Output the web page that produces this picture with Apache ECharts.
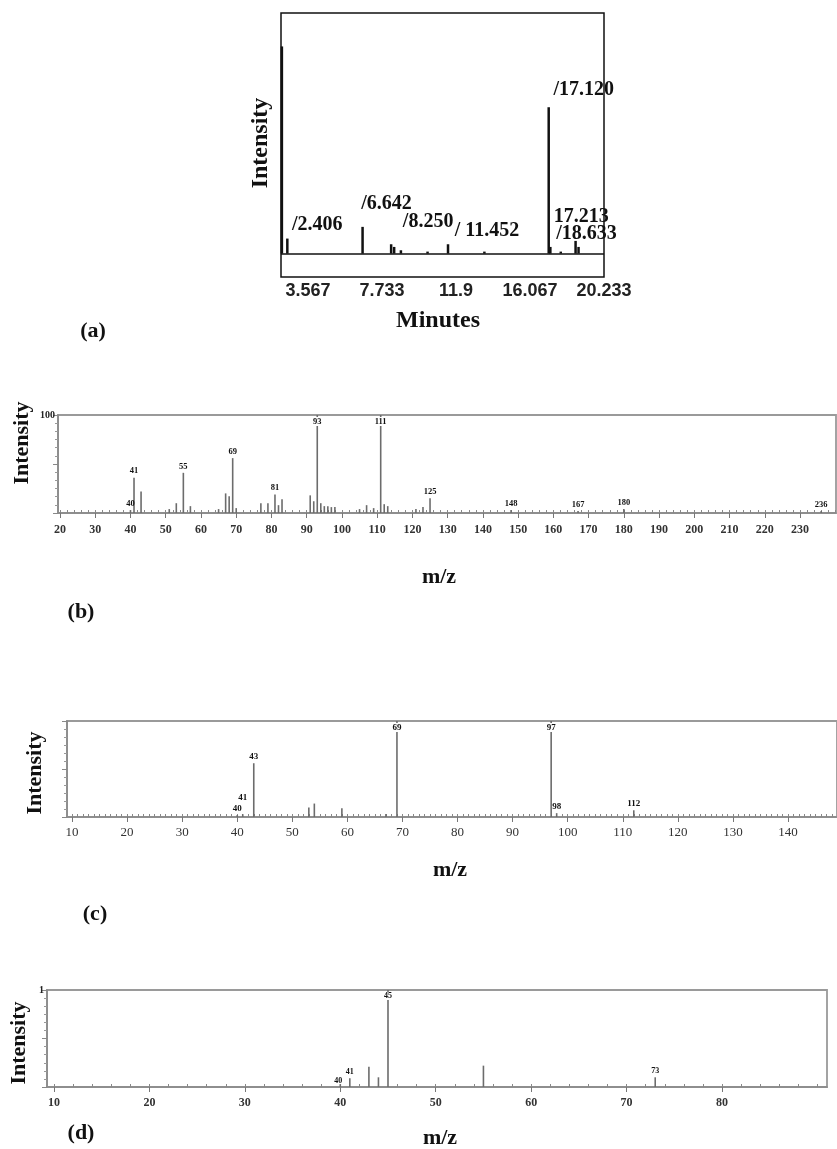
<!DOCTYPE html>
<html><head><meta charset="utf-8">
<script src="https://cdn.jsdelivr.net/npm/echarts@6/dist/echarts.min.js"></script>
<style>html,body{margin:0;padding:0;background:#fff}#c{width:837px;height:1149px}</style>
</head><body><div id="c"></div>
<script>
// ---- (a) chromatogram ----
const chromTimes   = [2.1, 2.406, 6.642, 8.250, 8.42, 8.8, 10.3, 11.452, 13.5, 17.120, 17.213, 17.8, 18.633, 18.8];
const chromHeights = [620, 45, 80, 28, 20, 10, 6, 28, 6, 438, 20, 6, 38, 20];
const chromLabels  = ['', '/2.406', '/6.642', '/8.250', '', '', '', '/ 11.452', '', '/17.120', '17.213', '', '/18.633', ''];
const chromTickValues = [3.567, 7.733, 11.9, 16.067, 20.233];
const chromTickText   = ['3.567', '7.733', '11.9', '16.067', '20.233'];

// ---- (b) mass spectrum ----
const bMz  = [40, 41, 43, 51, 53, 55, 57, 65, 67, 68, 69, 70, 77, 79, 81, 82, 83, 91, 92, 93, 94, 95, 96, 97, 98, 105, 107, 109, 111, 112, 113, 121, 123, 125, 148, 167, 180, 236];
const bInt = [3, 36, 22, 4, 10, 41, 7, 4, 20, 17, 56, 5, 10, 10, 19, 8, 14, 18, 12, 100, 10, 7, 7, 6, 6, 4, 8, 5, 100, 9, 7, 4, 6, 15, 3, 2, 4, 2];
const bLabelled = [40, 41, 55, 69, 81, 93, 111, 125, 148, 167, 180, 236];
const bTicks = [20, 30, 40, 50, 60, 70, 80, 90, 100, 110, 120, 130, 140, 150, 160, 170, 180, 190, 200, 210, 220, 230];

// ---- (c) mass spectrum ----
const cMz  = [40, 41, 43, 53, 54, 59, 67, 69, 97, 98, 112];
const cInt = [2, 3, 56, 10, 14, 9, 3, 100, 100, 4, 7];
const cLabelled = [40, 41, 43, 69, 97, 98, 112];
const cTicks = [10, 20, 30, 40, 50, 60, 70, 80, 90, 100, 110, 120, 130, 140];

// ---- (d) mass spectrum ----
const dMz  = [40, 41, 43, 44, 45, 55, 73];
const dInt = [3, 9, 21, 10, 100, 22, 10];
const dLabelled = [40, 41, 45, 73];
const dTicks = [10, 20, 30, 40, 50, 60, 70, 80];

// ---- layout / style (not data) ----
const chromLabelOffsets = [[0,0],[30,-4],[24,-13],[37,-12],[0,0],[0,0],[0,0],[39,-3],[0,0],[35,-7],[31,-20],[0,0],[11,3],[0,0]];
const specLabelOffsets = { c: {41: [0, -10]}, d: {40: [-2, 3]} };
const SERIF = '"Liberation Serif","DejaVu Serif",serif';
const SANS = '"Liberation Sans",Arial,sans-serif';

function minorList(min, max, step) {
  const out = [];
  for (let v = Math.ceil(min / step) * step; v <= max; v += step) out.push(+v.toFixed(4));
  return out;
}

const grids = [
  {left: 281, top: 13, width: 323, height: 264, show: true, borderColor: '#111', borderWidth: 1.5},
  {left: 58, top: 415, width: 778, height: 98, show: true, borderColor: '#9a9a9a', borderWidth: 1.8},
  {left: 67, top: 721, width: 770, height: 96, show: true, borderColor: '#9a9a9a', borderWidth: 1.8},
  {left: 47, top: 990, width: 780, height: 97, show: true, borderColor: '#9a9a9a', borderWidth: 1.8}
];

const specAxes = [
  {key: 'b', min: 19.43, max: 240.2, ticks: bTicks, minorStep: 2, font: 12, margin: 11, weight: 'bold', yLabel: '100'},
  {key: 'c', min: 9.09, max: 148.9, ticks: cTicks, minorStep: 1, font: 13, margin: 9, weight: 'normal', yLabel: ''},
  {key: 'd', min: 9.27, max: 91.0, ticks: dTicks, minorStep: 2, font: 12, margin: 10, weight: 'bold', yLabel: '1'}
];

const xAxes = [{
  gridIndex: 0, type: 'value', min: 2.05, max: 20.233,
  axisLine: {show: false}, axisTick: {show: false}, splitLine: {show: false},
  axisLabel: {
    customValues: chromTickValues, margin: 5,
    formatter: v => chromTickText[chromTickValues.findIndex(t => Math.abs(t - v) < 1e-6)] || '',
    color: '#222', fontFamily: SANS, fontWeight: 'bold', fontSize: 18
  }
}];
const yAxes = [{
  gridIndex: 0, type: 'value', min: -70, max: 720,
  axisLine: {show: false}, axisTick: {show: false}, axisLabel: {show: false}, splitLine: {show: false}
}];

specAxes.forEach((a, i) => {
  const g = i + 1;
  xAxes.push({
    gridIndex: g, type: 'value', min: a.min, max: a.max,
    axisLine: {onZero: false, lineStyle: {color: '#8a8a8a', width: 1.6}},
    axisTick: {customValues: a.ticks, length: 5, lineStyle: {color: '#777'}},
    splitLine: {show: false},
    axisLabel: {customValues: a.ticks, margin: a.margin, color: '#333', fontFamily: SERIF,
      fontSize: a.font, fontWeight: a.weight}
  });
  xAxes.push({
    gridIndex: g, type: 'value', min: a.min, max: a.max,
    axisLine: {show: false}, splitLine: {show: false}, axisLabel: {show: false},
    axisTick: {customValues: minorList(a.min, a.max, a.minorStep), length: 3, lineStyle: {color: '#888'}}
  });
  yAxes.push({
    gridIndex: g, type: 'value', min: 0, max: 100, interval: 50,
    axisLine: {show: true, lineStyle: {color: '#8a8a8a', width: 1.6}},
    axisTick: {show: true, length: 5, lineStyle: {color: '#888'}},
    minorTick: {show: true, splitNumber: 6, length: 3, lineStyle: {color: '#999'}},
    splitLine: {show: false},
    axisLabel: {margin: 3, formatter: v => (v === 100 ? a.yLabel : ''), color: '#222',
      fontFamily: SERIF, fontWeight: 'bold', fontSize: 10}
  });
});

function specSeries(mz, inten, labelled, xIdx, yIdx, key, fontSize) {
  const offs = specLabelOffsets[key] || {};
  return {
    type: 'bar', xAxisIndex: xIdx, yAxisIndex: yIdx, barWidth: 1.6, animation: false,
    itemStyle: {color: '#6c6c6c'},
    label: {show: false, position: 'top', distance: 2, color: '#111', fontFamily: SERIF,
      fontWeight: 'bold', fontSize: fontSize},
    data: mz.map((m, i) => {
      const lab = labelled.indexOf(m) >= 0;
      const item = {value: [m, inten[i]]};
      if (lab) {
        if (inten[i] >= 100) {
          item.label = {show: true, position: 'insideTop', distance: 2, backgroundColor: '#fff',
            padding: [0, 1], formatter: String(m)};
        } else {
          item.label = {show: true, formatter: String(m), offset: offs[m] || [0, 0]};
        }
      }
      return item;
    })
  };
}

const series = [
  {
    type: 'bar', xAxisIndex: 0, yAxisIndex: 0, barWidth: 2.5, animation: false,
    itemStyle: {color: '#111'},
    label: {show: false, position: 'top', distance: 0, lineHeight: 20, color: '#111',
      fontFamily: SERIF, fontWeight: 'bold', fontSize: 20},
    markLine: {silent: true, symbol: 'none', label: {show: false},
      lineStyle: {color: '#111', width: 1.6, type: 'solid'}, data: [{yAxis: 0}]},
    data: chromTimes.map((t, i) => {
      const item = {value: [t, chromHeights[i]]};
      if (chromLabels[i]) item.label = {show: true, formatter: chromLabels[i], offset: chromLabelOffsets[i]};
      return item;
    })
  },
  specSeries(bMz, bInt, bLabelled, 1, 1, 'b', 8.5),
  specSeries(cMz, cInt, cLabelled, 3, 2, 'c', 9),
  specSeries(dMz, dInt, dLabelled, 5, 3, 'd', 8)
];

function txt(text, x, y, size, rot) {
  return {type: 'text', x: x, y: y, rotation: rot ? Math.PI / 2 : 0,
    style: {text: text, font: 'bold ' + size + 'px ' + SERIF, fill: '#111',
      textAlign: 'center', textVerticalAlign: 'middle'}};
}

const graphic = [
  txt('Intensity', 261, 143, 24, true),
  txt('Minutes', 438, 321, 24),
  txt('(a)', 93, 331, 22),
  txt('Intensity', 22, 443, 22, true),
  txt('m/z', 439, 577, 22),
  txt('(b)', 81, 612, 22),
  txt('Intensity', 35, 773, 22, true),
  txt('m/z', 450, 870, 22),
  txt('(c)', 95, 914, 22),
  txt('Intensity', 19, 1043, 22, true),
  txt('m/z', 440, 1138, 22),
  txt('(d)', 81, 1133, 22)
];

const chart = echarts.init(document.getElementById('c'), null, {renderer: 'canvas'});
chart.setOption({
  backgroundColor: '#fff', animation: false,
  grid: grids, xAxis: xAxes, yAxis: yAxes, series: series, graphic: graphic
});
</script></body></html>
